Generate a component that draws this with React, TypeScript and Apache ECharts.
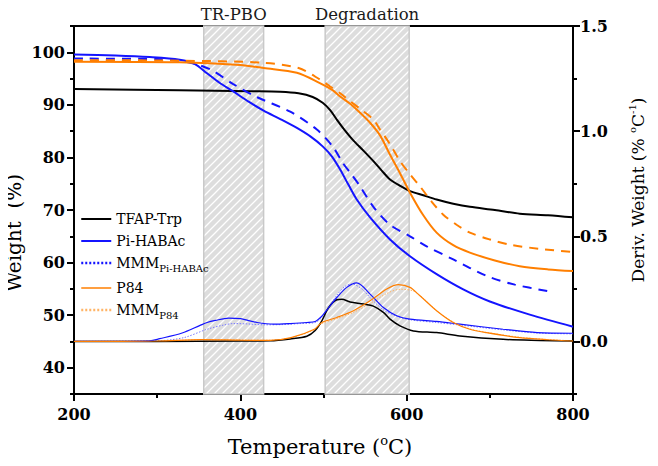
import React, { useEffect, useRef } from "react";
import * as echarts from "echarts";

// ---------- data ----------
const xMajorTicks = [200, 400, 600, 800];
const xMinorTicks = [300, 500, 700];
const leftMajorTicks = [40, 50, 60, 70, 80, 90, 100];
const leftMinorTicks = [35, 45, 55, 65, 75, 85, 95, 105];
const rightMajorTicks = [0, 0.5, 1.0, 1.5];
const rightMinorTicks = [-0.25, 0.25, 0.75, 1.25];

const shadeRanges = [
  [356, 428],
  [502, 603],
];
const shadeLabels = ["TR-PBO", "Degradation"];

const legendNames = ["TFAP-Trp", "Pi-HABAc", "MMM Pi-HABAc", "P84", "MMM P84"];

// TGA (weight %)
const tfapT = [200, 327, 412, 448, 470, 487, 499, 508, 516, 525, 535, 548, 560, 570, 580, 592, 604, 620, 636, 656, 676, 706, 736, 770, 800];
const tfapW = [93.0, 92.8, 92.6, 92.5, 92.2, 91.5, 90.4, 89.0, 87.2, 85.3, 83.4, 81.3, 79.3, 77.5, 75.8, 74.6, 73.6, 72.8, 72.0, 71.2, 70.6, 70.0, 69.3, 69.0, 68.6];

const piT = [200, 250, 291, 327, 345, 360, 375, 391, 410, 428, 448, 468, 485, 499, 510, 520, 530, 540, 556, 580, 604, 636, 668, 700, 748, 800];
const piW = [99.6, 99.4, 99.1, 98.6, 97.8, 96.0, 94.2, 92.6, 90.6, 88.9, 87.3, 85.6, 83.9, 82.1, 80.2, 77.7, 74.8, 72.0, 68.6, 64.4, 61.2, 57.8, 54.9, 52.6, 50.1, 47.8];

const mmmPiT = [200, 300, 327, 350, 367, 391, 421, 460, 492, 511, 523, 534, 544, 560, 580, 604, 624, 656, 697, 730, 769];
const mmmPiW = [98.8, 98.7, 98.4, 97.6, 96.5, 94.0, 91.4, 88.7, 85.3, 82.1, 79.0, 76.7, 74.5, 70.6, 67.2, 65.0, 63.1, 60.6, 57.4, 55.8, 54.6];

const p84T = [200, 327, 400, 428, 468, 495, 510, 520, 532, 544, 556, 568, 580, 592, 604, 620, 636, 656, 676, 706, 736, 770, 800];
const p84W = [98.2, 98.1, 97.6, 97.0, 96.1, 94.2, 92.9, 91.6, 90.2, 88.5, 86.6, 84.2, 80.5, 77.0, 73.3, 69.0, 65.7, 63.3, 61.9, 60.4, 59.3, 58.7, 58.4];

const mmmP84T = [200, 327, 428, 470, 496, 508, 520, 532, 546, 560, 568, 580, 592, 604, 616, 630, 644, 660, 676, 700, 724, 760, 800];
const mmmP84W = [98.5, 98.4, 98.0, 97.0, 94.8, 93.5, 92.2, 90.7, 89.0, 87.2, 85.3, 82.5, 79.3, 76.8, 74.5, 71.6, 69.1, 67.2, 65.7, 64.4, 63.4, 62.6, 62.0];

// DTG (deriv. weight % / °C)
const tfapDT = [200, 300, 400, 436, 460, 480, 490, 498, 506, 516, 522, 532, 548, 560, 572, 580, 592, 608, 636, 664, 716, 760, 800];
const tfapD = [0, 0, 0.002, 0.003, 0.012, 0.025, 0.052, 0.098, 0.16, 0.198, 0.2, 0.188, 0.178, 0.168, 0.138, 0.106, 0.074, 0.05, 0.042, 0.026, 0.01, 0.005, 0.002];

const piDT = [200, 291, 303, 330, 351, 360, 370, 386, 400, 420, 440, 460, 480, 490, 498, 506, 516, 528, 540, 556, 572, 588, 604, 636, 664, 716, 757, 800];
const piD = [0, 0.003, 0.013, 0.04, 0.075, 0.09, 0.1, 0.111, 0.108, 0.09, 0.082, 0.085, 0.09, 0.095, 0.12, 0.16, 0.209, 0.257, 0.278, 0.225, 0.161, 0.122, 0.106, 0.095, 0.082, 0.058, 0.042, 0.039];

const mmmPiDT = [200, 300, 332, 360, 380, 392, 410, 428, 450, 472, 490, 498, 506, 516, 526, 534, 546, 558, 572, 588, 604, 636, 664, 716, 757, 800];
const mmmPiD = [0, 0.003, 0.018, 0.058, 0.078, 0.085, 0.083, 0.079, 0.08, 0.085, 0.09, 0.114, 0.16, 0.22, 0.262, 0.273, 0.25, 0.2, 0.15, 0.12, 0.103, 0.09, 0.078, 0.055, 0.04, 0.036];

const p84DT = [200, 300, 353, 400, 436, 461, 489, 498, 516, 536, 556, 576, 590, 604, 616, 636, 656, 676, 696, 736, 770, 800];
const p84D = [0, 0.002, 0.009, 0.006, 0.005, 0.018, 0.058, 0.09, 0.114, 0.146, 0.193, 0.249, 0.27, 0.257, 0.217, 0.146, 0.09, 0.058, 0.042, 0.018, 0.008, 0.002];

const mmmP84DT = [200, 300, 353, 400, 436, 461, 489, 498, 516, 536, 556, 576, 592, 608, 620, 636, 656, 676, 696, 736, 770, 800];
const mmmP84D = [0, 0.002, 0.008, 0.007, 0.006, 0.017, 0.055, 0.085, 0.108, 0.138, 0.18, 0.228, 0.248, 0.24, 0.205, 0.146, 0.092, 0.06, 0.043, 0.02, 0.009, 0.003];

// ---------- styling ----------
const BLACK = "#000000";
const BLUE = "#1414ff";
const ORANGE = "#ff7f00";
const LIGHT_BLUE = "#7a7aff";
const LIGHT_ORANGE = "#ffb466";
const SERIF = "DejaVu Serif";

const zip = (xs: number[], ys: number[]) => xs.map((x, i) => [x, ys[i]]);

function makeHatch() {
  const s = 8;
  const c = document.createElement("canvas");
  c.width = s;
  c.height = s;
  const ctx = c.getContext("2d");
  if (ctx) {
    ctx.fillStyle = "#dddddd";
    ctx.fillRect(0, 0, s, s);
    ctx.strokeStyle = "#ffffff";
    ctx.lineWidth = 1.3;
    ctx.beginPath();
    ctx.moveTo(0, s);
    ctx.lineTo(s, 0);
    ctx.moveTo(-s / 2, s / 2);
    ctx.lineTo(s / 2, -s / 2);
    ctx.moveTo(s / 2, s + s / 2);
    ctx.lineTo(s + s / 2, s / 2);
    ctx.stroke();
  }
  return c;
}

export default function App() {
  const ref = useRef<HTMLDivElement>(null);

  useEffect(() => {
    if (!ref.current) return;
    const chart = echarts.init(ref.current, null, { renderer: "svg" });
    const hatch = makeHatch();

    const tickLabel = {
      fontFamily: SERIF,
      fontWeight: "bold" as const,
      fontSize: 16,
      color: BLACK,
    };

    const line = (
      name: string,
      data: number[][],
      yAxisIndex: number,
      color: string,
      width: number,
      type: any = "solid",
      z = 3
    ) => ({
      name,
      type: "line",
      data,
      xAxisIndex: 0,
      yAxisIndex,
      symbol: "none",
      showSymbol: false,
      smooth: 0.3,
      z,
      lineStyle: { color, width, type },
      itemStyle: { color },
      emphasis: { disabled: true },
    });

    const sub = { fontFamily: SERIF, fontSize: 10, lineHeight: 12, verticalAlign: "bottom", color: BLACK };
    const hiddenSymbol = { color: "transparent", borderColor: "transparent", borderWidth: 0, opacity: 0 };

    const option: any = {
      animation: false,
      backgroundColor: "#ffffff",
      grid: {
        left: 74,
        right: 85,
        top: 26,
        bottom: 72,
        show: true,
        borderColor: BLACK,
        borderWidth: 2,
        backgroundColor: "transparent",
      },
      legend: {
        show: true,
        orient: "vertical",
        left: 75,
        top: 207,
        itemWidth: 30,
        itemHeight: 14,
        itemGap: 8,
        selectedMode: false,
        itemStyle: hiddenSymbol,
        data: [
          { name: legendNames[0], itemStyle: hiddenSymbol, lineStyle: { color: BLACK, width: 2, type: "solid" } },
          { name: legendNames[1], itemStyle: hiddenSymbol, lineStyle: { color: BLUE, width: 2, type: "solid" } },
          { name: legendNames[2], itemStyle: hiddenSymbol, lineStyle: { color: BLUE, width: 2.5, type: [2, 2] } },
          { name: legendNames[3], itemStyle: hiddenSymbol, lineStyle: { color: ORANGE, width: 1.5, type: "solid" } },
          { name: legendNames[4], itemStyle: hiddenSymbol, lineStyle: { color: LIGHT_ORANGE, width: 2.5, type: [2, 2] } },
        ],
        formatter: (name: string) => {
          if (name === legendNames[2]) return "{n|MMM}{s|Pi-HABAc}";
          if (name === legendNames[4]) return "{n|MMM}{s|P84}";
          return "{n|" + name + "}";
        },
        textStyle: {
          fontFamily: SERIF,
          fontSize: 14,
          color: BLACK,
          rich: {
            n: { fontFamily: SERIF, fontSize: 14, lineHeight: 20, color: BLACK },
            s: sub,
          },
        },
      },
      xAxis: [
        {
          type: "value",
          position: "bottom",
          min: 200,
          max: 800,
          interval: 200,
          axisLine: { show: true, onZero: false, lineStyle: { color: BLACK, width: 2 } },
          axisTick: { show: true, inside: false, length: 7, customValues: xMajorTicks, lineStyle: { color: BLACK, width: 2 } },
          axisLabel: { show: true, margin: 12, customValues: xMajorTicks, ...tickLabel },
          splitLine: { show: false },
        },
        {
          type: "value",
          position: "bottom",
          min: 200,
          max: 800,
          interval: 100,
          axisLine: { show: false, onZero: false },
          axisTick: { show: true, inside: false, length: 4, customValues: xMinorTicks, lineStyle: { color: BLACK, width: 2 } },
          axisLabel: { show: false },
          splitLine: { show: false },
        },
      ],
      yAxis: [
        {
          type: "value",
          position: "left",
          min: 35,
          max: 105,
          interval: 5,
          axisLine: { show: true, onZero: false, lineStyle: { color: BLACK, width: 2 } },
          axisTick: { show: true, inside: false, length: 7, customValues: leftMajorTicks, lineStyle: { color: BLACK, width: 2 } },
          axisLabel: {
            show: true,
            margin: 9,
            customValues: leftMajorTicks,
            formatter: (v: number) => (leftMajorTicks.indexOf(v) >= 0 ? String(v) : ""),
            ...tickLabel,
          },
          splitLine: { show: false },
        },
        {
          type: "value",
          position: "left",
          min: 35,
          max: 105,
          interval: 5,
          axisLine: { show: false, onZero: false },
          axisTick: { show: true, inside: false, length: 4, customValues: leftMinorTicks, lineStyle: { color: BLACK, width: 2 } },
          axisLabel: { show: false },
          splitLine: { show: false },
        },
        {
          type: "value",
          position: "right",
          min: -0.25,
          max: 1.5,
          interval: 0.25,
          axisLine: { show: true, onZero: false, lineStyle: { color: BLACK, width: 2 } },
          axisTick: { show: true, inside: false, length: 7, customValues: rightMajorTicks, lineStyle: { color: BLACK, width: 2 } },
          axisLabel: {
            show: true,
            margin: 7,
            customValues: rightMajorTicks,
            formatter: (v: number) =>
              rightMajorTicks.some((t) => Math.abs(t - v) < 1e-6) ? v.toFixed(1) : "",
            ...tickLabel,
          },
          splitLine: { show: false },
        },
        {
          type: "value",
          position: "right",
          min: -0.25,
          max: 1.5,
          interval: 0.25,
          axisLine: { show: false, onZero: false },
          axisTick: { show: true, inside: false, length: 4, customValues: rightMinorTicks, lineStyle: { color: BLACK, width: 2 } },
          axisLabel: { show: false },
          splitLine: { show: false },
        },
      ],
      graphic: [
        {
          type: "text",
          x: 14,
          y: 233,
          rotation: Math.PI / 2,
          silent: true,
          style: {
            text: "Weight  (%)",
            fontFamily: SERIF,
            fontSize: 20,
            fill: BLACK,
            align: "center",
            verticalAlign: "middle",
            textAlign: "center",
            textVerticalAlign: "middle",
          },
        },
        {
          type: "text",
          x: 638,
          y: 190,
          rotation: Math.PI / 2,
          silent: true,
          style: {
            text: "{a|Deriv. Weight (% }{s|o}{a|C}{s|-1}{a|)}",
            fill: BLACK,
            align: "center",
            verticalAlign: "middle",
            textAlign: "center",
            textVerticalAlign: "middle",
            rich: {
              a: { fontFamily: SERIF, fontSize: 17, lineHeight: 22, fill: BLACK, color: BLACK },
              s: { fontFamily: SERIF, fontSize: 10, lineHeight: 12, verticalAlign: "top", fill: BLACK, color: BLACK },
            },
          },
        },
        {
          type: "text",
          x: 320,
          y: 447,
          silent: true,
          style: {
            text: "{a|Temperature (}{s|o}{a|C)}",
            fill: BLACK,
            align: "center",
            verticalAlign: "middle",
            textAlign: "center",
            textVerticalAlign: "middle",
            rich: {
              a: { fontFamily: SERIF, fontSize: 21, lineHeight: 26, fill: BLACK, color: BLACK },
              s: { fontFamily: SERIF, fontSize: 13, lineHeight: 14, verticalAlign: "top", fill: BLACK, color: BLACK },
            },
          },
        },
      ],
      series: [
        {
          name: "shade",
          type: "line",
          xAxisIndex: 0,
          yAxisIndex: 0,
          data: [],
          z: 1,
          silent: true,
          markArea: {
            silent: true,
            itemStyle: {
              color: { image: hatch, repeat: "repeat" },
              borderColor: "#c9c9c9",
              borderWidth: 1.5,
            },
            label: {
              show: true,
              position: "top",
              distance: 2,
              fontFamily: SERIF,
              fontSize: 16.5,
              color: "#1a1a1a",
              formatter: "{b}",
            },
            data: shadeRanges.map((r, i) => [
              { name: shadeLabels[i], xAxis: r[0] },
              { xAxis: r[1] },
            ]),
          },
        },
        // DTG curves (right axis)
        line("MMM Pi-HABAc DTG", zip(mmmPiDT, mmmPiD), 2, LIGHT_BLUE, 1, [1.5, 1.5], 2),
        line("MMM P84 DTG", zip(mmmP84DT, mmmP84D), 2, LIGHT_ORANGE, 1, [1.5, 1.5], 2),
        line("TFAP-Trp DTG", zip(tfapDT, tfapD), 2, BLACK, 1.5, "solid", 3),
        line("Pi-HABAc DTG", zip(piDT, piD), 2, BLUE, 1.2, "solid", 3),
        line("P84 DTG", zip(p84DT, p84D), 2, ORANGE, 1.2, "solid", 3),
        // TGA curves (left axis)
        line(legendNames[0], zip(tfapT, tfapW), 0, BLACK, 2, "solid", 4),
        line(legendNames[1], zip(piT, piW), 0, BLUE, 2, "solid", 4),
        line(legendNames[2], zip(mmmPiT, mmmPiW), 0, BLUE, 2, [9, 7], 4),
        line(legendNames[3], zip(p84T, p84W), 0, ORANGE, 2, "solid", 4),
        line(legendNames[4], zip(mmmP84T, mmmP84W), 0, ORANGE, 2, [9, 7], 4),
      ],
    };

    chart.setOption(option);
    return () => chart.dispose();
  }, []);

  return <div ref={ref} style={{ width: 658, height: 466, margin: -8 }} />;
}
